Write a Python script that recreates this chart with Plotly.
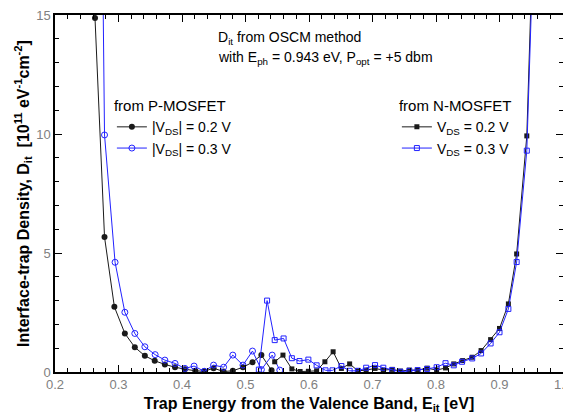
import plotly.graph_objects as go

# P-MOSFET |VDS| = 0.2 V (black filled circles)
p02_x = [0.2475, 0.263, 0.278, 0.2935, 0.310, 0.3257, 0.3415, 0.357, 0.373, 0.389, 0.4046,
         0.421, 0.435, 0.4497, 0.4655, 0.480, 0.496, 0.511, 0.525, 0.541]
p02_y = [40.0, 14.87, 5.67, 2.74, 1.62, 1.04, 0.68, 0.47, 0.32, 0.20, 0.12,
         0.05, 0.03, 0.16, 0.02, 0.05, 0.20, 0.41, 0.71, 0.07]

# P-MOSFET |VDS| = 0.3 V (blue open circles)
p03_x = [0.2625, 0.278, 0.2946, 0.310, 0.3257, 0.3415, 0.3577, 0.373, 0.389, 0.4046,
         0.419, 0.435, 0.4497, 0.4655, 0.480, 0.496, 0.511, 0.525, 0.542, 0.554]
p03_y = [49.0, 9.96, 4.61, 2.51, 1.62, 1.06, 0.73, 0.50, 0.36, 0.15,
         0.25, 0.03, 0.29, 0.20, 0.71, 0.29, 0.88, 0.10, 0.71, 0.08]

# N-MOSFET VDS = 0.2 V (black filled squares)
n02_x = [0.546, 0.559, 0.573, 0.586, 0.599, 0.612, 0.625, 0.638, 0.651, 0.664, 0.677,
         0.690, 0.704, 0.717, 0.731, 0.744, 0.758, 0.771, 0.786, 0.801, 0.815, 0.828,
         0.842, 0.857, 0.871, 0.886, 0.900, 0.914, 0.927, 0.943, 0.957]
n02_y = [0.43, 0.71, 0.13, 0.02, 0.03, 0.05, 0.43, 0.85, 0.15, 0.34, 0.05,
         0.08, 0.15, 0.08, 0.11, 0.04, 0.08, 0.08, 0.16, 0.08, 0.17, 0.34,
         0.48, 0.62, 0.90, 1.36, 1.83, 2.86, 4.96, 9.92, 22.0]

# N-MOSFET VDS = 0.3 V (blue open squares)
n03_x = [0.521, 0.534, 0.546, 0.560, 0.573, 0.585, 0.599, 0.612, 0.626, 0.637, 0.651,
         0.664, 0.677, 0.690, 0.704, 0.717, 0.731, 0.744, 0.758, 0.771, 0.786, 0.801,
         0.815, 0.828, 0.841, 0.857, 0.871, 0.886, 0.900, 0.914, 0.927, 0.943, 0.957]
n03_y = [0.10, 3.00, 1.34, 1.41, 0.58, 0.46, 0.52, 0.28, 0.07, 0.07, 0.25,
         0.05, 0.05, 0.18, 0.29, 0.18, 0.08, 0.01, 0.05, 0.08, 0.13, 0.20,
         0.37, 0.28, 0.43, 0.57, 0.78, 1.20, 1.67, 2.65, 4.62, 9.30, 21.0]

x_ticks = [0.2, 0.3, 0.4, 0.5, 0.6, 0.7, 0.8, 0.9, 1.0]
x_ticklabels = ["0.2", "0.3", "0.4", "0.5", "0.6", "0.7", "0.8", "0.9", "1.0"]
y_ticks = [0, 5, 10, 15]
y_ticklabels = ["0", "5", "10", "15"]

FONT = "Arial, Liberation Sans, sans-serif"
BLACK = "#1a1a1a"
BLUE = "#2222ff"

fig = go.Figure()
fig.add_trace(go.Scatter(
    x=p02_x, y=p02_y, mode="lines+markers", name="|V<sub>DS</sub>| = 0.2 V",
    line=dict(color=BLACK, width=1),
    marker=dict(symbol="circle", size=6, color=BLACK), legend="legend"))
fig.add_trace(go.Scatter(
    x=p03_x, y=p03_y, mode="lines+markers", name="|V<sub>DS</sub>| = 0.3 V",
    line=dict(color=BLUE, width=1),
    marker=dict(symbol="circle-open", size=6, color=BLUE, line=dict(width=1)), legend="legend"))
fig.add_trace(go.Scatter(
    x=n02_x, y=n02_y, mode="lines+markers", name="V<sub>DS</sub> = 0.2 V",
    line=dict(color=BLACK, width=1),
    marker=dict(symbol="square", size=5, color=BLACK), legend="legend2"))
fig.add_trace(go.Scatter(
    x=n03_x, y=n03_y, mode="lines+markers", name="V<sub>DS</sub> = 0.3 V",
    line=dict(color=BLUE, width=1),
    marker=dict(symbol="square-open", size=5, color=BLUE, line=dict(width=1)), legend="legend2"))

axis_common = dict(
    showline=True, linecolor="black", linewidth=1.5, mirror="allticks",
    ticks="inside", ticklen=7, tickwidth=1, tickcolor="black",
    showgrid=False, zeroline=False, automargin=False,
    ticklabeloverflow="allow",
    tickfont=dict(family=FONT, size=13, color="#808080"),
)

fig.update_xaxes(
    range=[0.2, 1.0], tickvals=x_ticks, ticktext=x_ticklabels,
    minor=dict(dtick=0.02, ticklen=4, tickcolor="black", ticks="inside"),
    title=dict(text="<b>Trap Energy from the Valence Band, E<sub>it</sub> [eV]</b>",
               font=dict(family=FONT, size=16, color="black"), standoff=6),
    **axis_common)
fig.update_yaxes(
    range=[0, 15], tickvals=y_ticks, ticktext=y_ticklabels,
    minor=dict(dtick=1, ticklen=4, tickcolor="black", ticks="inside"),
    title=dict(text="<b>Interface-trap Density, D<sub>it</sub>  [10<sup>11</sup> eV<sup>-1</sup>cm<sup>-2</sup>]</b>",
               font=dict(family=FONT, size=16, color="black"), standoff=3),
    **axis_common)

legend_common = dict(
    bgcolor="rgba(0,0,0,0)", borderwidth=0,
    font=dict(family=FONT, size=14, color="black"),
    tracegroupgap=0, itemwidth=30, xanchor="left", yanchor="top",
)
fig.update_layout(
    width=563, height=408,
    margin=dict(l=47, r=8, t=7, b=44),
    paper_bgcolor="white", plot_bgcolor="white",
    font=dict(family=FONT, color="black"),
    legend=dict(x=0.112, y=0.785,
                title=dict(text="from P-MOSFET", font=dict(family=FONT, size=15, color="black"), side="top"),
                **legend_common),
    legend2=dict(x=0.673, y=0.785,
                 title=dict(text="from N-MOSFET", font=dict(family=FONT, size=15, color="black"), side="top"),
                 **legend_common),
    annotations=[
        dict(text="D<sub>it</sub> from OSCM method", xref="paper", yref="paper",
             x=0.316, y=0.935, xanchor="left", yanchor="middle", showarrow=False,
             font=dict(family=FONT, size=14, color="black")),
        dict(text="with E<sub>ph</sub> = 0.943 eV, P<sub>opt</sub> = +5 dbm", xref="paper", yref="paper",
             x=0.316, y=0.88, xanchor="left", yanchor="middle", showarrow=False,
             font=dict(family=FONT, size=14, color="black")),
    ],
)

fig.write_html("out.html")
